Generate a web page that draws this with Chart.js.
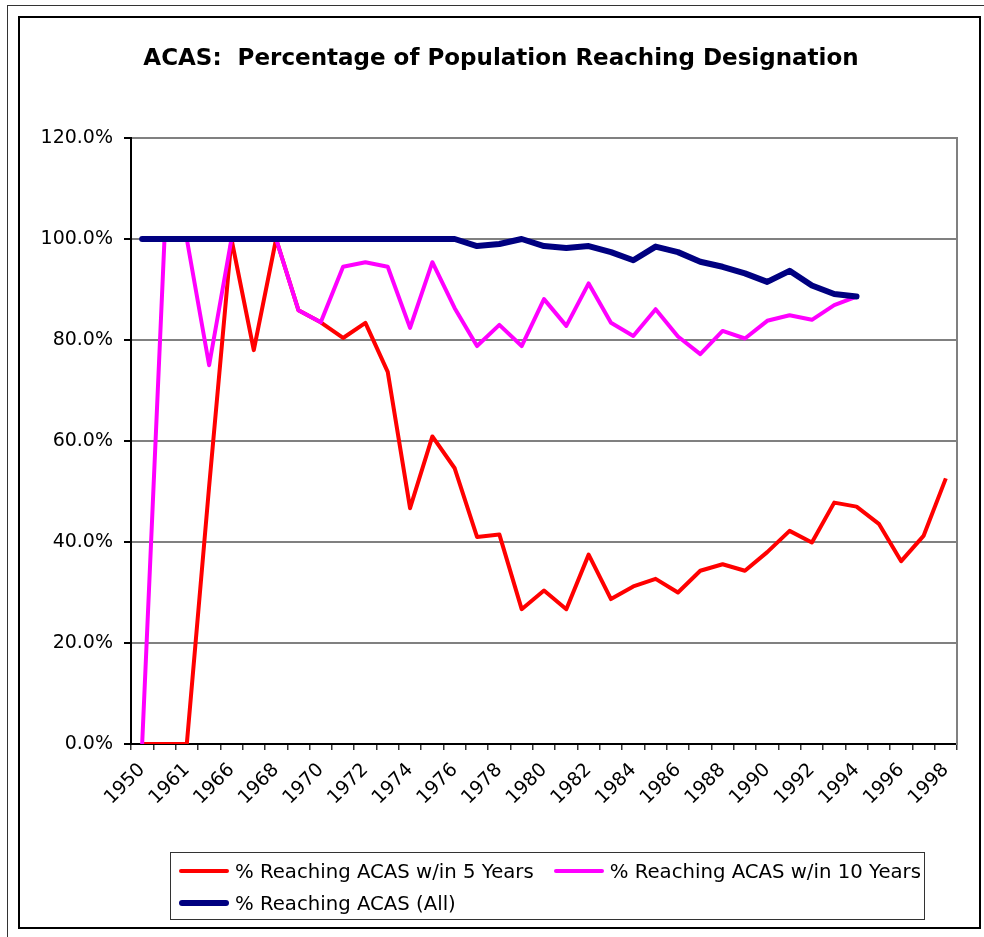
<!DOCTYPE html>
<html>
<head>
<meta charset="utf-8">
<title>ACAS: Percentage of Population Reaching Designation</title>
<script src="https://cdn.jsdelivr.net/npm/chart.js@4.4.1/dist/chart.umd.min.js"></script>
<style>
  html, body { margin: 0; padding: 0; background: #fff; overflow: hidden; }
  body { width: 984px; height: 937px; position: relative; font-family: "DejaVu Sans", Verdana, sans-serif; }
  .outer-frame { position: absolute; left: 7px; top: 5px; width: 990px; height: 950px; border: 1px solid #333; }
  .inner-frame { position: absolute; left: 18px; top: 16px; width: 959px; height: 909px; border: 2px solid #000; }
  .chart-wrap { position: absolute; left: 24px; top: 18px; width: 954px; height: 907px; }
  .legend-box {
    position: absolute; left: 170px; top: 852px; width: 753px; height: 64px;
    border: 1px solid #333; padding-top: 2px; font-size: 19.7px; color: #000;
  }
  .legend-row { display: flex; align-items: center; height: 32px; padding-left: 8px; white-space: nowrap; }
  .legend-item { display: flex; align-items: center; margin-right: 20px; }
  .legend-swatch { display: inline-block; width: 50px; margin-right: 6px; border-radius: 3px; }
</style>
</head>
<body>
<div class="outer-frame"></div>
<div class="inner-frame"></div>
<div class="chart-wrap"><canvas id="acasChart"></canvas></div>
<div class="legend-box" id="legend"></div>

<script>
// category years along the x axis (only every second one is labelled)
const years = [
  "1950", "1960", "1961", "1964", "1966", "1967", "1968", "1969", "1970", "1971",
  "1972", "1973", "1974", "1975", "1976", "1977", "1978", "1979", "1980", "1981",
  "1982", "1983", "1984", "1985", "1986", "1987", "1988", "1989", "1990", "1991",
  "1992", "1993", "1994", "1995", "1996", "1997", "1998",
];

// percentages
const within5 = [
  0, 0, 0, 51, 100, 78, 100, 85.9, 83.5, 80.4,
  83.4, 73.7, 46.7, 60.9, 54.6, 41.0, 41.5, 26.7, 30.4, 26.7,
  37.5, 28.7, 31.2, 32.7, 30.0, 34.3, 35.6, 34.3, 38.0, 42.2,
  39.9, 47.8, 47.0, 43.6, 36.2, 41.2, 52.6,
];

const within10 = [
  0, 100, 100, 75, 100, 100, 100, 85.9, 83.5, 94.5,
  95.4, 94.5, 82.4, 95.4, 86.3, 78.8, 83.0, 78.8, 88.1, 82.8,
  91.2, 83.4, 80.8, 86.1, 80.7, 77.2, 81.8, 80.3, 83.8, 84.9,
  84.0, 86.9, 88.6, null, null, null, null,
];

const allReaching = [
  100, 100, 100, 100, 100, 100, 100, 100, 100, 100,
  100, 100, 100, 100, 100, 98.6, 99.0, 100, 98.6, 98.2,
  98.6, 97.4, 95.8, 98.5, 97.4, 95.5, 94.5, 93.2, 91.5, 93.7,
  90.8, 89.1, 88.6, null, null, null, null,
];

const seriesLabels = [
  "% Reaching ACAS w/in 5 Years",
  "% Reaching ACAS w/in 10 Years",
  "% Reaching ACAS (All)",
];
const seriesColors = ["#ff0000", "#ff00ff", "#000080"];
const seriesWidths = [4, 4, 6];

const yTicks = [0, 20, 40, 60, 80, 100, 120];

const $ = (id) => document.getElementById(id);
const FONT = "'DejaVu Sans', Verdana, sans-serif";

function buildDatasets() {
  const values = [within5, within10, allReaching];
  return values.map((data, i) => ({
    label: seriesLabels[i],
    data,
    borderColor: seriesColors[i],
    backgroundColor: seriesColors[i],
    borderWidth: seriesWidths[i],
    pointRadius: 0,
    tension: 0,
    spanGaps: false,
    borderCapStyle: i === 2 ? "round" : "butt",
    borderJoinStyle: "round",
    order: 3 - i, // later series drawn on top
  }));
}

function drawChart() {
  new Chart($("acasChart"), {
    type: "line",
    data: { labels: years, datasets: buildDatasets() },
    options: {
      responsive: true,
      maintainAspectRatio: false,
      animation: false,
      layout: { padding: { left: 0, right: 0, top: 0, bottom: 111 } },
      plugins: {
        legend: { display: false },
        tooltip: { enabled: false },
        title: {
          display: true,
          text: "ACAS:  Percentage of Population Reaching Designation",
          color: "#000",
          font: { family: FONT, size: 23, weight: "bold", lineHeight: 1.2 },
          padding: { top: 27, bottom: 65.4 },
        },
      },
      scales: {
        x: {
          offset: true,
          afterFit: (scale) => { scale.height = 70; },
          grid: {
            display: true, drawOnChartArea: false, offset: true,
            tickLength: 6, color: "#333", lineWidth: 1.5,
          },
          border: { display: true, color: "#000", width: 2 },
          ticks: {
            autoSkip: false, maxRotation: 45, minRotation: 45, padding: 9,
            color: "#000", font: { family: FONT, size: 19 },
            callback: (val, i) => (i % 2 === 0 ? years[i] : ""),
          },
        },
        y: {
          min: yTicks[0],
          max: yTicks[yTicks.length - 1],
          afterFit: (scale) => { scale.width = 107; },
          afterBuildTicks: (scale) => { scale.ticks = yTicks.map((v) => ({ value: v })); },
          grid: { color: "#808080", lineWidth: 2, tickLength: 7, tickColor: "#000" },
          border: { display: true, color: "#000", width: 2 },
          ticks: {
            padding: 11, color: "#000", font: { family: FONT, size: 19 },
            callback: (v) => `${Number(v).toFixed(1)}%`,
          },
        },
        // empty right axis: gives the grey right edge of the plot frame
        yRight: {
          position: "right",
          min: yTicks[0],
          max: yTicks[yTicks.length - 1],
          afterFit: (scale) => { scale.width = 21; },
          grid: { display: false },
          border: { display: true, color: "#808080", width: 2 },
          ticks: { display: false },
        },
      },
    },
  });
}

function renderLegend() {
  const box = $("legend");
  const rows = [[0, 1], [2]];
  rows.forEach((idxs) => {
    const row = document.createElement("div");
    row.className = "legend-row";
    idxs.forEach((i) => {
      const item = document.createElement("span");
      item.className = "legend-item";
      const sw = document.createElement("span");
      sw.className = "legend-swatch";
      sw.style.background = seriesColors[i];
      sw.style.height = `${seriesWidths[i]}px`;
      const txt = document.createElement("span");
      txt.textContent = seriesLabels[i];
      item.appendChild(sw);
      item.appendChild(txt);
      row.appendChild(item);
    });
    box.appendChild(row);
  });
}

renderLegend();
drawChart();
</script>
</body>
</html>
